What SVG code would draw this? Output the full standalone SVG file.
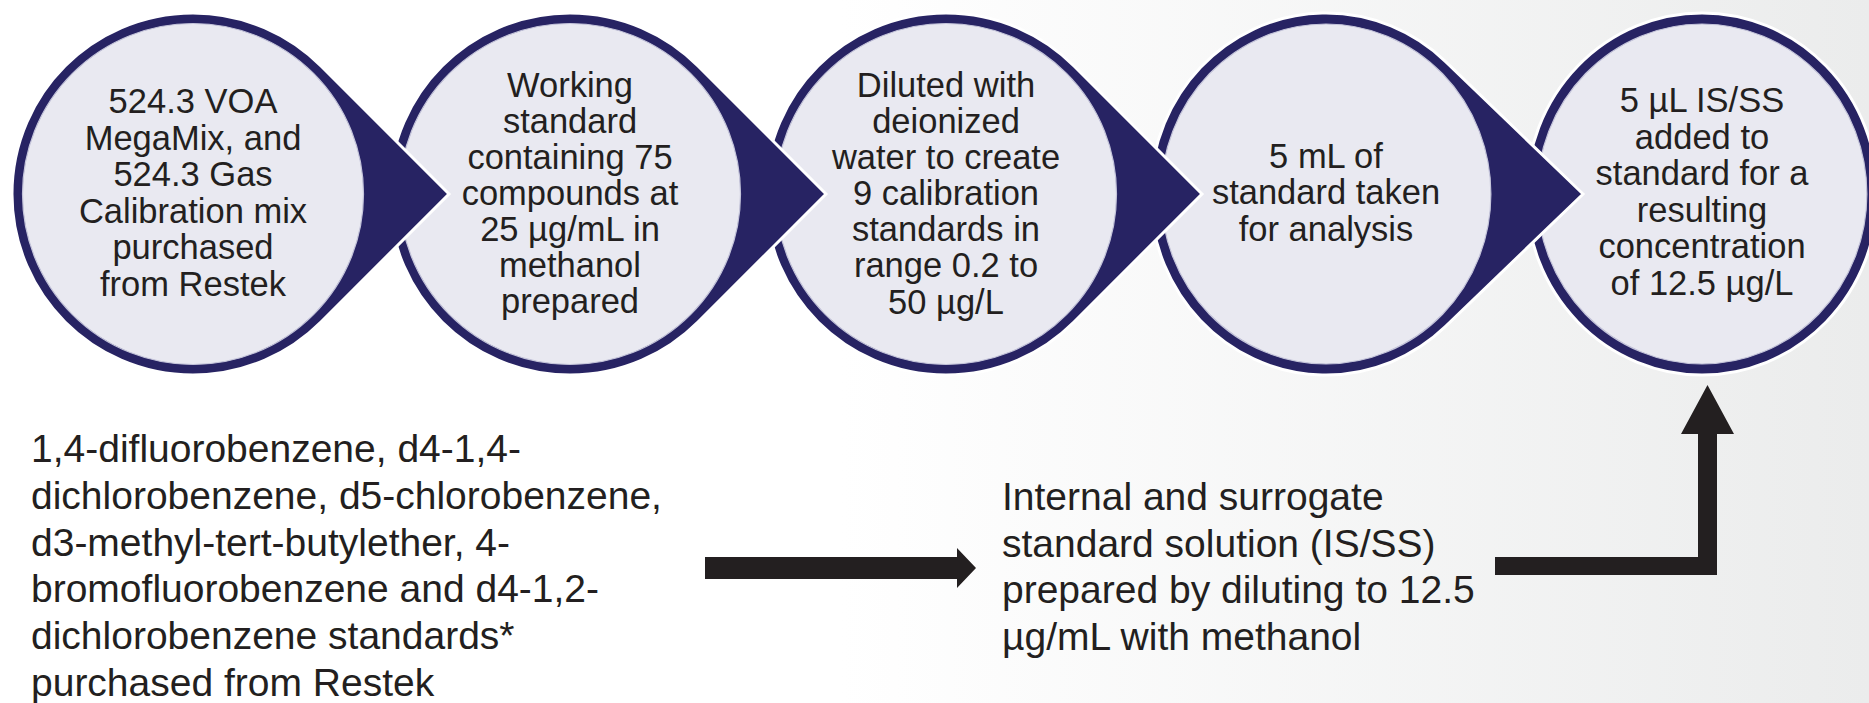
<svg xmlns="http://www.w3.org/2000/svg" width="1869" height="703" viewBox="0 0 1869 703">
<defs>
<linearGradient id="bg" x1="0" y1="0" x2="1" y2="0">
<stop offset="0" stop-color="#ffffff"/>
<stop offset="0.45" stop-color="#ffffff"/>
<stop offset="1" stop-color="#ebecec"/>
</linearGradient>
<style>
.ring{fill:#272363;stroke:#ffffff;stroke-width:3;stroke-linejoin:miter}
.fill{fill:#e9e9f1;stroke:#c4c4da;stroke-width:1.2}
.ct{font-family:"Liberation Sans",Arial,sans-serif;font-size:34.5px;fill:#231f20;text-anchor:middle}
.bt{font-family:"Liberation Sans",Arial,sans-serif;font-size:39px;fill:#231f20}
.arrow{fill:#231f20}
</style>
</defs>
<rect x="0" y="0" width="1869" height="703" fill="url(#bg)"/>

<g id="node5" transform="translate(1702,194)">
<g transform="scale(0.97,1)">
<circle class="ring" cx="0" cy="0" r="181"/>
<circle class="fill" cx="0" cy="0" r="170"/>
</g>
<text class="ct"><tspan x="0" y="-82">5 µL IS/SS</tspan><tspan x="0" y="-45.5">added to</tspan><tspan x="0" y="-9">standard for a</tspan><tspan x="0" y="27.5">resulting</tspan><tspan x="0" y="64">concentration</tspan><tspan x="0" y="101">of 12.5 µg/L</tspan></text>
</g>

<g id="node4" transform="translate(1326,194)">
<g transform="scale(0.97,1)">
<path class="ring" d="M265,0 L123.6,-132.2 A181,181 0 1 0 123.6,132.2 Z"/>
<circle class="fill" cx="0" cy="0" r="170"/>
</g>
<text class="ct"><tspan x="0" y="-26">5 mL of</tspan><tspan x="0" y="10">standard taken</tspan><tspan x="0" y="47">for analysis</tspan></text>
</g>

<g id="node3" transform="translate(946,194)">
<path class="ring" d="M256,0 L128,-128 A181,181 0 1 0 128,128 Z"/>
<circle class="fill" cx="0" cy="0" r="170.5"/>
<text class="ct"><tspan x="0" y="-97">Diluted with</tspan><tspan x="0" y="-61">deionized</tspan><tspan x="0" y="-25">water to create</tspan><tspan x="0" y="11">9 calibration</tspan><tspan x="0" y="47">standards in</tspan><tspan x="0" y="83">range 0.2 to</tspan><tspan x="0" y="120">50 µg/L</tspan></text>
</g>

<g id="node2" transform="translate(570,194)">
<path class="ring" d="M256,0 L128,-128 A181,181 0 1 0 128,128 Z"/>
<circle class="fill" cx="0" cy="0" r="170.5"/>
<text class="ct"><tspan x="0" y="-97">Working</tspan><tspan x="0" y="-61">standard</tspan><tspan x="0" y="-25">containing 75</tspan><tspan x="0" y="11">compounds at</tspan><tspan x="0" y="47">25 µg/mL in</tspan><tspan x="0" y="83">methanol</tspan><tspan x="0" y="119">prepared</tspan></text>
</g>

<g id="node1" transform="translate(193,194)">
<path class="ring" d="M256,0 L128,-128 A181,181 0 1 0 128,128 Z"/>
<circle class="fill" cx="0" cy="0" r="170.5"/>
<text class="ct"><tspan x="0" y="-81">524.3 VOA</tspan><tspan x="0" y="-44.4">MegaMix, and</tspan><tspan x="0" y="-7.8">524.3 Gas</tspan><tspan x="0" y="28.8">Calibration mix</tspan><tspan x="0" y="65.4">purchased</tspan><tspan x="0" y="102">from Restek</tspan></text>
</g>

<g id="standards-source">
<text class="bt"><tspan x="31" y="462">1,4-difluorobenzene, d4-1,4-</tspan><tspan x="31" y="508.8">dichlorobenzene, d5-chlorobenzene,</tspan><tspan x="31" y="555.6">d3-methyl-tert-butylether, 4-</tspan><tspan x="31" y="602.4">bromofluorobenzene and d4-1,2-</tspan><tspan x="31" y="649.2">dichlorobenzene standards*</tspan><tspan x="31" y="696">purchased from Restek</tspan></text>
</g>

<g id="is-ss-solution">
<text class="bt"><tspan x="1002" y="510">Internal and surrogate</tspan><tspan x="1002" y="556.7">standard solution (IS/SS)</tspan><tspan x="1002" y="603.4">prepared by diluting to 12.5</tspan><tspan x="1002" y="650.1">µg/mL with methanol</tspan></text>
</g>

<g id="connectors">
<path class="arrow" d="M705,557 H957 V548 L976,568 L957,588 V579 H705 Z"/>
<path class="arrow" d="M1495,557 H1698 V434 H1681 L1707.5,385 L1734,434 H1717 V575 H1495 Z"/>
</g>
</svg>
